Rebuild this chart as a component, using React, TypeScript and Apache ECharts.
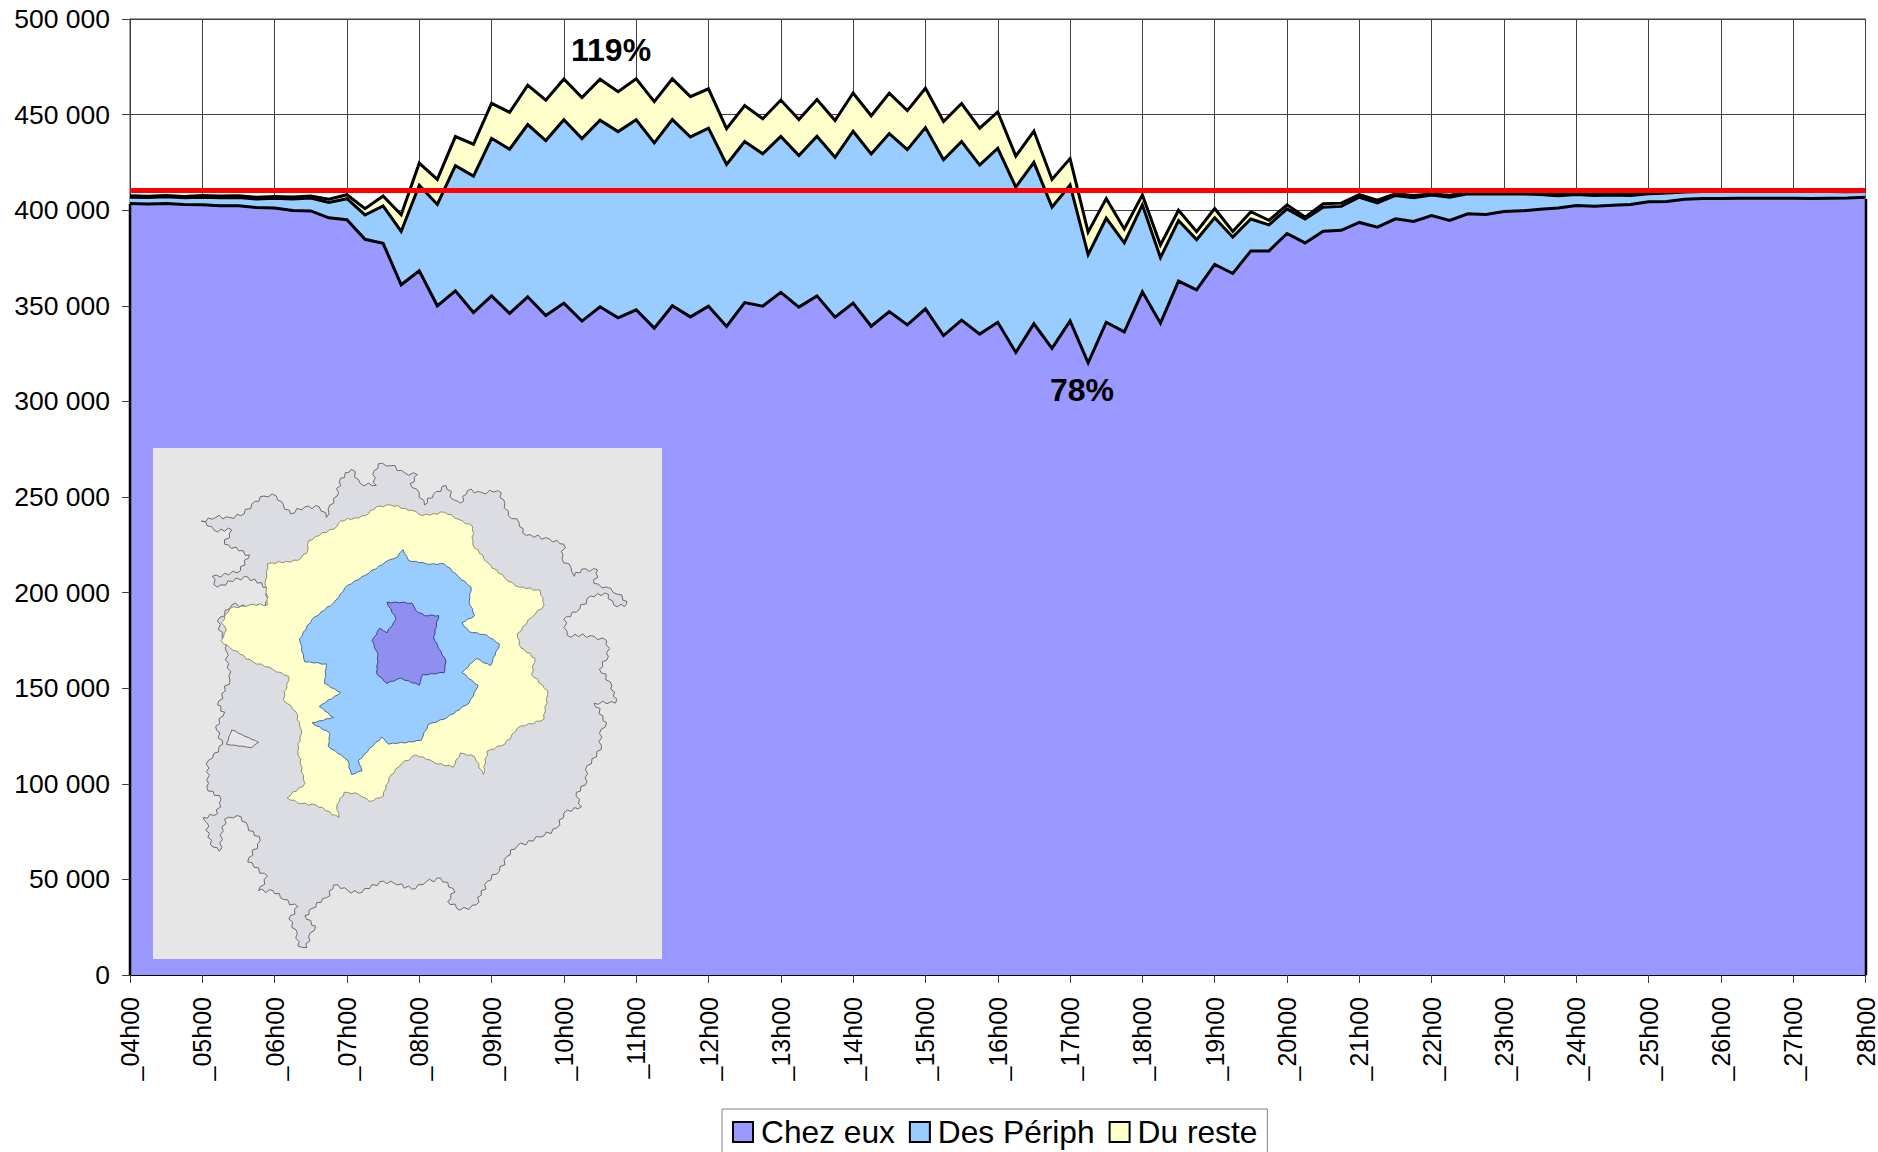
import React, { useEffect, useRef } from "react";
import * as echarts from "echarts";

const hourLabels = ["_04h00","_05h00","_06h00","_07h00","_08h00","_09h00","_10h00","_11h00","_12h00","_13h00","_14h00","_15h00","_16h00","_17h00","_18h00","_19h00","_20h00","_21h00","_22h00","_23h00","_24h00","_25h00","_26h00","_27h00","_28h00"];
const quarterSuffixes = ["15", "30", "45"];

const chezEux = [403500,403300,403500,403000,402800,402300,402300,401400,401200,399800,399600,396000,395000,384800,382700,361000,368300,350000,357800,346500,355200,346000,354700,344900,351400,342000,349500,343700,347900,338300,350000,344200,349800,339200,351700,349800,357000,349300,355200,344000,351400,339300,347000,340000,348400,334400,342500,335200,341400,325600,340600,327700,342100,320200,341400,336400,357300,340900,362900,358300,371600,366900,378700,378700,387800,382900,389000,389500,393600,391100,395500,394100,397200,394600,398100,397700,399300,399650,400500,401200,402400,402100,402600,403000,404400,404500,405750,406100,406100,406300,406300,406300,406300,406100,406300,406400,406800];
const desPeriph = [3300,3300,3500,3500,4000,4200,4400,4500,5100,6100,6800,8000,11000,12700,19500,27900,44800,53000,65500,71300,82400,85900,90100,91500,95900,95500,97600,97400,99400,96900,97400,94100,93100,84700,84200,79700,81600,79300,83500,83700,89900,90100,93100,91700,94800,92000,93400,88400,91000,86500,84400,73900,71100,56600,54400,46500,45500,34300,31700,26300,24400,19000,16700,13600,12900,12500,12500,12500,13200,12700,12200,12400,10800,12200,10500,10800,9200,8900,7700,6400,5800,5600,5400,4700,4200,4500,3800,3700,3700,3500,3500,3500,3500,3700,3500,3300,3000];
const duReste = [700,700,700,700,900,900,900,900,900,1000,1000,1700,2100,3300,5200,8700,11500,13100,15200,16700,18300,19300,20600,21100,21300,21400,21400,20900,21400,21600,21300,21100,20600,18800,18800,18300,19000,18800,19200,19200,20000,20000,21100,20400,20600,20000,19900,19300,19000,16200,16400,14500,13800,11700,10300,7300,5200,6600,5400,4200,4900,3000,3800,2400,2100,1000,1900,1700,1400,1400,900,1200,500,1000,500,300,300,300,500,700,300,700,500,700,300,300,300,300,300,300,300,300,300,300,300,300,300];
const referenceLevel = 410300;
const seriesNames = ["Chez eux", "Des Périph", "Du reste"];
const seriesColors = ["#9999FF", "#99CCFF", "#FFFFCC"];

const categories: string[] = [];
hourLabels.forEach((label, i) => {
  categories.push(label);
  if (i < hourLabels.length - 1) quarterSuffixes.forEach((q) => categories.push(label.slice(0, 4) + q));
});

const outlineOuter = [[200,255],[240,245],[280,245],[320,235],[350,200],[375,185],[410,185],[430,210],[450,235],[490,215],[530,215],[550,245],[560,210],[580,185],[590,135],[620,110],[645,150],[690,155],[680,125],[695,95],[730,100],[770,120],[805,125],[785,150],[810,175],[825,210],[850,180],[885,155],[905,195],[925,205],[945,170],[985,175],[1030,170],[1050,205],[1060,240],[1090,260],[1110,295],[1175,305],[1215,320],[1210,360],[1235,385],[1245,410],[1265,390],[1310,392],[1300,430],[1335,440],[1365,460],[1392,480],[1385,495],[1355,490],[1340,460],[1290,465],[1250,510],[1215,530],[1225,575],[1300,578],[1335,590],[1340,635],[1315,670],[1350,715],[1360,765],[1300,765],[1335,820],[1315,850],[1320,895],[1280,940],[1280,985],[1250,1015],[1265,1055],[1225,1065],[1195,1115],[1150,1140],[1085,1165],[1055,1195],[1035,1235],[1000,1265],[970,1330],[925,1345],[890,1320],[910,1295],[870,1255],[830,1265],[800,1285],[740,1270],[700,1265],[650,1295],[610,1290],[570,1275],[550,1310],[510,1340],[490,1360],[520,1390],[500,1420],[495,1450],[470,1445],[465,1400],[445,1370],[470,1335],[430,1315],[400,1290],[360,1290],[385,1250],[330,1210],[365,1150],[330,1110],[300,1080],[265,1090],[250,1180],[225,1160],[215,1100],[205,1085],[245,1075],[255,1035],[215,1000],[220,925],[260,880],[240,830],[265,790],[245,770],[280,700],[270,620],[265,590],[245,535],[285,490],[380,495],[385,440],[320,410],[245,440],[230,410],[300,400],[335,350],[265,320],[285,280],[235,280]];
const outlineHole = [[270,880],[285,840],[360,875],[340,890]];
const outlineYellow = [[255,540],[280,500],[335,490],[385,490],[380,420],[385,375],[470,365],[495,345],[500,310],[580,270],[590,255],[660,240],[690,215],[730,210],[790,225],[820,240],[880,230],[920,250],[960,270],[960,320],[1000,370],[1050,415],[1090,440],[1150,450],[1160,490],[1125,525],[1085,570],[1095,610],[1135,640],[1125,685],[1170,730],[1160,810],[1085,835],[1050,880],[1000,900],[990,965],[965,915],[925,905],[905,945],[850,930],[800,910],[760,935],[725,975],[710,1025],[670,1040],[640,1020],[600,1015],[580,1050],[585,1085],[520,1050],[470,1045],[440,1030],[490,990],[470,900],[480,840],[465,790],[430,755],[445,690],[400,670],[345,650],[280,610],[255,590],[270,560]];
const outlineBlue = [[475,585],[510,530],[570,485],[610,435],[670,400],[715,370],[750,355],[765,335],[780,365],[830,375],[880,375],[920,410],[955,440],[950,480],[965,520],[930,540],[950,565],[1000,575],[1035,600],[1010,660],[970,640],[930,680],[975,715],[950,765],[880,810],[835,825],[815,870],[725,880],[705,860],[640,925],[650,955],[620,965],[610,925],[555,885],[560,850],[510,820],[570,805],[530,775],[590,735],[545,710],[550,655],[490,650]];
const outlineCore = [[720,482],[790,485],[800,505],[825,520],[865,520],[850,580],[885,650],[880,680],[820,685],[810,715],[760,695],[720,710],[690,680],[695,630],[678,590],[700,555],[720,568],[745,530]];

// Adds small ragged steps along a map outline (decoration of the inset only).
function ragged(points: number[][], amp: number): number[][] {
  const out: number[][] = [];
  const offsets = [0.9, -0.6, 0.4, -1, 0.7, -0.3];
  let k = 0;
  points.forEach((p, i) => {
    const q = points[(i + 1) % points.length];
    const dx = q[0] - p[0];
    const dy = q[1] - p[1];
    const len = Math.hypot(dx, dy);
    const steps = Math.max(1, Math.round(len / 11));
    for (let s = 0; s < steps; s++) {
      const t = s / steps;
      const o = s === 0 ? 0 : offsets[k++ % offsets.length] * amp;
      out.push([p[0] + dx * t - (dy / len) * o, p[1] + dy * t + (dx / len) * o]);
    }
  });
  return out;
}

export default function App() {
  const ref = useRef<HTMLDivElement>(null);
  useEffect(() => {
    document.body.style.margin = "0";
    const chart = echarts.init(ref.current!, undefined, { renderer: "svg" });
    const font = "Liberation Sans";
    const poly = (points: number[][], fill: string, stroke: string, amp: number) => ({
      type: "polygon",
      z: 100,
      shape: { points: ragged(points, amp) },
      style: { fill, stroke, lineWidth: 2.8 },
    });
    const areaSeries = [chezEux, desPeriph, duReste].map((data, i) => ({
      name: seriesNames[i],
      type: "line",
      stack: "total",
      data,
      showSymbol: false,
      symbol: "none",
      lineStyle: { color: "#000", width: 3, join: "miter" },
      itemStyle: { color: seriesColors[i], borderColor: "#000", borderWidth: 2 },
      areaStyle: { color: seriesColors[i], opacity: 1 },
      ...(i === 2
        ? {
            markLine: {
              silent: true,
              symbol: "none",
              label: { show: false },
              lineStyle: { color: "#FF0000", width: 5, type: "solid" },
              data: [{ yAxis: referenceLevel }],
              z: 20,
            },
          }
        : {}),
    }));
    chart.setOption({
      animation: false,
      textStyle: { fontFamily: font },
      grid: { show: true, left: 130, right: 12, top: 19, height: 956, borderColor: "#404040", borderWidth: 1, containLabel: false },
      legend: {
        data: seriesNames,
        left: 722,
        top: 1109,
        orient: "horizontal",
        itemWidth: 20,
        itemHeight: 20,
        itemGap: 14,
        padding: [7, 10, 12, 10],
        borderColor: "#808080",
        borderWidth: 1,
        backgroundColor: "#fff",
        icon: "rect",
        textStyle: { fontSize: 31.7, color: "#000", fontFamily: font, padding: [0, 0, 0, 3] },
      },
      xAxis: {
        type: "category",
        data: categories,
        boundaryGap: false,
        axisLine: { show: true, lineStyle: { color: "#000", width: 2 } },
        axisTick: { show: true, interval: 3, length: 8, lineStyle: { color: "#404040" } },
        axisLabel: { interval: 3, rotate: 90, margin: 22, fontSize: 25, color: "#000", fontFamily: font, showMinLabel: true, showMaxLabel: true },
        splitLine: { show: true, interval: 3, lineStyle: { color: "#404040", width: 1 } },
      },
      yAxis: {
        type: "value",
        min: 0,
        max: 500000,
        interval: 50000,
        axisLine: { show: true, lineStyle: { color: "#404040", width: 1 } },
        axisTick: { show: true, length: 8, lineStyle: { color: "#404040" } },
        axisLabel: {
          margin: 20,
          fontSize: 26.5,
          color: "#000",
          fontFamily: font,
          formatter: (v: number) => (v === 0 ? "0" : `${Math.floor(v / 1000)} ${String(v % 1000).padStart(3, "0")}`),
        },
        splitLine: { show: true, lineStyle: { color: "#404040", width: 1 } },
      },
      series: areaSeries,
      graphic: [
        { type: "line", z: 90, shape: { x1: 130, y1: 204, x2: 130, y2: 975 }, style: { stroke: "#000", lineWidth: 2.5 } },
        { type: "line", z: 90, shape: { x1: 1866, y1: 199, x2: 1866, y2: 975 }, style: { stroke: "#000", lineWidth: 2.5 } },
        { type: "rect", z: 100, shape: { x: 153, y: 448, width: 509, height: 511 }, style: { fill: "#E6E6E6" } },
        {
          type: "group",
          x: 130,
          y: 430,
          scaleX: 1 / 2.8,
          scaleY: 1 / 2.8,
          z: 100,
          children: [
            poly(outlineOuter, "#DCDDE3", "#6b6b6b", 6),
            poly(outlineHole, "#E6E6E6", "#6b6b6b", 1),
            poly(outlineYellow, "#FFFFCC", "#8f8f70", 3),
            poly(outlineBlue, "#99CCFF", "#4a6f96", 2),
            poly(outlineCore, "#8F8FEF", "#3f3f90", 2),
          ],
        },
        { type: "text", z: 110, x: 571, y: 34, style: { text: "119%", font: `bold 32px "${font}"`, fill: "#000" } },
        { type: "text", z: 110, x: 1050, y: 374, style: { text: "78%", font: `bold 32px "${font}"`, fill: "#000" } },
      ],
    });
    return () => chart.dispose();
  }, []);
  return <div ref={ref} style={{ width: 1878, height: 1152 }} />;
}
